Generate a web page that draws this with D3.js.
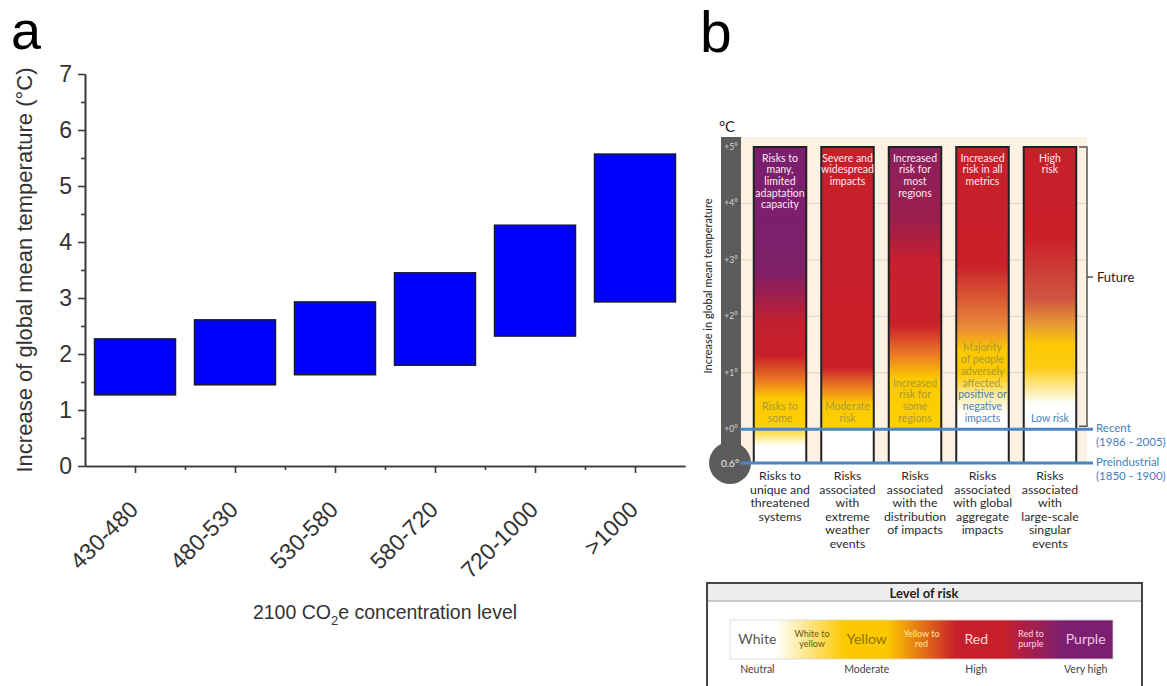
<!DOCTYPE html>
<html>
<head>
<meta charset="utf-8">
<script src="https://cdn.jsdelivr.net/npm/d3@7"></script>
<style>
body { margin: 0; background: #fff; }
</style>
</head>
<body>
<div id="chart"></div>
<script>
// panel a - warming range for each concentration level
var concLevels = ["430-480", "480-530", "530-580", "580-720", "720-1000", ">1000"];
var tempLow = [1.27, 1.45, 1.63, 1.8, 2.32, 2.93];
var tempHigh = [2.27, 2.61, 2.93, 3.45, 4.3, 5.57];
var tempTicks = [0, 1, 2, 3, 4, 5, 6, 7];

// panel b - reasons for concern
var thermoTicks = [5, 4, 3, 2, 1, 0];
var riskTopText = [
	["Risks to", "many,", "limited", "adaptation", "capacity"],
	["Severe and", "widespread", "impacts"],
	["Increased", "risk for", "most", "regions"],
	["Increased", "risk in all", "metrics"],
	["High", "risk"]
];
var riskLowText = [
	["Risks to", "some"],
	["Moderate", "risk"],
	["Increased", "risk for", "some", "regions"],
	["Majority", "of people", "adversely", "affected,", "positive or", "negative", "impacts"],
	["Low risk"]
];
var riskNames = [
	["Risks to", "unique and", "threatened", "systems"],
	["Risks", "associated", "with", "extreme", "weather", "events"],
	["Risks", "associated", "with the", "distribution", "of impacts"],
	["Risks", "associated", "with global", "aggregate", "impacts"],
	["Risks", "associated", "with", "large-scale", "singular", "events"]
];
// colour of each bar at a given temperature (degrees above recent)
var riskStops = [
	[[5, "#7a1f70"], [2.8, "#7e1f68"], [1.9, "#c21f2f"], [1.3, "#c9202a"], [0.85, "#ec7a22"], [0.55, "#fcc800"], [0.05, "#fdd000"], [-0.3, "#ffffff"], [-0.6, "#ffffff"]],
	[[5, "#c8202a"], [1.1, "#c9202a"], [0.75, "#ec7a22"], [0.45, "#fcc800"], [0.02, "#fdd000"], [-0.03, "#ffffff"], [-0.6, "#ffffff"]],
	[[5, "#8a1f5e"], [3.7, "#9b1f4c"], [3.0, "#c61f2e"], [1.85, "#c9202a"], [1.35, "#eb7526"], [0.9, "#fcc800"], [0.02, "#fdd000"], [-0.03, "#ffffff"], [-0.6, "#ffffff"]],
	[[5, "#c8202a"], [2.9, "#c9202a"], [1.8, "#e98a3a"], [1.4, "#fcc800"], [1.0, "#fcc800"], [0.5, "#fff3c0"], [0.25, "#ffffff"], [-0.6, "#ffffff"]],
	[[5, "#c8202a"], [3.4, "#c9202a"], [2.3, "#d0553f"], [1.8, "#eba232"], [1.5, "#fcc800"], [1.1, "#fdcc10"], [0.45, "#ffffff"], [-0.6, "#ffffff"]]
];

// legend
var legendLabels = [["White"], ["White to", "yellow"], ["Yellow"], ["Yellow to", "red"], ["Red"], ["Red to", "purple"], ["Purple"]];
var legendStops = [[0, "#ffffff"], [0.12, "#ffffff"], [0.3, "#fcc800"], [0.41, "#fcc800"], [0.59, "#c8202a"], [0.71, "#c8202a"], [0.87, "#7b1f72"], [1, "#7b1f72"]];
var legendWords = ["Neutral", "Moderate", "High", "Very high"];
var legendWordAt = [0, 2, 4, 6];

var svg = d3.select("#chart")
	.append("svg")
	.attr("width", 1167)
	.attr("height", 686);

drawPanelA();
drawPanelB();
drawLegend();

//floating bars of panel a
function drawPanelA()
{
	var yA = d3.scaleLinear().domain([0, 7]).range([466, 74]);
	var xA = d3.scaleLinear().domain([0.5, 6.5]).range([85, 685]);
	var half = 0.405;

	svg.append("text")
		.attr("x", 11)
		.attr("y", 49)
		.style("font-family", "'Liberation Sans', Arial, sans-serif")
		.style("font-size", "54px")
		.text("a");

	svg.selectAll(".rangebar")
		.data(concLevels)
		.enter()
		.append("rect")
		.attr("class", "rangebar")
		.attr("x", function(d, i){ return xA(i + 1 - half); })
		.attr("width", function(d, i){ return xA(i + 1 + half) - xA(i + 1 - half); })
		.attr("y", function(d, i){ return yA(tempHigh[i]); })
		.attr("height", function(d, i){ return yA(tempLow[i]) - yA(tempHigh[i]); })
		.attr("fill", "#0000ff")
		.attr("stroke", "#1a1a2e")
		.attr("stroke-width", 1.5);

	//minor ticks
	svg.append("g")
		.attr("class", "axisA")
		.attr("transform", "translate(85,0)")
		.call(d3.axisLeft(yA).tickValues(d3.range(0.5, 7, 1)).tickSize(4).tickSizeOuter(0).tickFormat(""));
	svg.append("g")
		.attr("class", "axisA")
		.attr("transform", "translate(0,466)")
		.call(d3.axisBottom(xA).tickValues(d3.range(1.5, 6.5, 1)).tickSize(4).tickSizeOuter(0).tickFormat(""));

	//major ticks
	svg.append("g")
		.attr("class", "axisA")
		.attr("transform", "translate(85,0)")
		.call(d3.axisLeft(yA).tickValues(tempTicks).tickSize(7).tickSizeOuter(0).tickPadding(6)
			.tickFormat(d3.format("d")));

	var xAxis = svg.append("g")
		.attr("class", "axisA")
		.attr("transform", "translate(0,466)")
		.call(d3.axisBottom(xA).tickValues(d3.range(1, 7)).tickSize(7).tickSizeOuter(0)
			.tickFormat(function(d){ return concLevels[d - 1]; }));

	xAxis.selectAll("text")
		.attr("x", 0)
		.attr("y", 0)
		.attr("dy", 0)
		.attr("text-anchor", "end")
		.attr("transform", "translate(4,45) rotate(-45)");

	svg.selectAll(".axisA path, .axisA line")
		.attr("stroke", "#3a3a3a")
		.attr("stroke-width", 1.6);
	svg.selectAll(".axisA text")
		.attr("fill", "#333")
		.style("font-family", "'Liberation Sans', Arial, sans-serif")
		.style("font-size", "23px");

	//axis titles
	svg.append("text")
		.attr("transform", "translate(32,270) rotate(-90)")
		.attr("text-anchor", "middle")
		.attr("fill", "#333")
		.style("font-family", "'Liberation Sans', Arial, sans-serif")
		.style("font-size", "22px")
		.text("Increase of global mean temperature (°C)");

	var xTitle = svg.append("text")
		.attr("x", 385)
		.attr("y", 619)
		.attr("text-anchor", "middle")
		.attr("fill", "#333")
		.style("font-family", "'Liberation Sans', Arial, sans-serif")
		.style("font-size", "19.5px");
	xTitle.append("tspan").text("2100 CO");
	xTitle.append("tspan").attr("dy", 6).style("font-size", "13px").text("2");
	xTitle.append("tspan").attr("dy", -6).text("e concentration level");
}

//reasons for concern panel
function drawPanelB()
{
	var yB = d3.scaleLinear().domain([-0.6, 5]).range([463, 147]);
	var xB = d3.scaleBand().domain(d3.range(5)).range([746, 1084]).paddingInner(0.222).paddingOuter(0.115);
	var font = "Lato, 'Open Sans', sans-serif";
	var lineH = 11.7;

	svg.append("text")
		.attr("x", 700)
		.attr("y", 52)
		.style("font-family", "'Liberation Sans', Arial, sans-serif")
		.style("font-size", "57px")
		.text("b");

	//beige backdrop and grid
	svg.append("rect")
		.attr("x", 741)
		.attr("y", 137)
		.attr("width", 346)
		.attr("height", yB(-0.6) - 137)
		.attr("fill", "#fcf1e3");

	svg.selectAll(".gridB")
		.data(thermoTicks.filter(function(t){ return t > 0 && t < 5; }))
		.enter()
		.append("line")
		.attr("class", "gridB")
		.attr("x1", 741)
		.attr("x2", 1087)
		.attr("y1", function(d){ return yB(d); })
		.attr("y2", function(d){ return yB(d); })
		.attr("stroke", "#ddd3c6")
		.attr("stroke-width", 1);

	//gradients for each bar
	var defs = svg.append("defs");
	riskStops.forEach(function(stops, i){
		var grad = defs.append("linearGradient")
			.attr("id", "risk" + i)
			.attr("x1", 0).attr("y1", 0)
			.attr("x2", 0).attr("y2", 1);
		stops.forEach(function(s){
			grad.append("stop")
				.attr("offset", (yB(s[0]) - yB(5)) / (yB(-0.6) - yB(5)))
				.attr("stop-color", s[1]);
		});
	});

	svg.selectAll(".riskbar")
		.data(riskStops)
		.enter()
		.append("rect")
		.attr("class", "riskbar")
		.attr("x", function(d, i){ return xB(i); })
		.attr("width", xB.bandwidth())
		.attr("y", yB(5))
		.attr("height", yB(-0.6) - yB(5))
		.attr("fill", function(d, i){ return "url(#risk" + i + ")"; })
		.attr("stroke", "#222")
		.attr("stroke-width", 2);

	//text at the top of each bar
	riskTopText.forEach(function(lines, i){
		lines.forEach(function(line, k){
			svg.append("text")
				.attr("x", xB(i) + xB.bandwidth() / 2)
				.attr("y", 158 + k * lineH)
				.attr("dy", "0.35em")
				.attr("text-anchor", "middle")
				.attr("fill", "#fbe9f0")
				.style("font-family", font)
				.style("font-size", "10.5px")
				.text(line);
		});
	});

	//text at the bottom of each bar, blue where the bar turns white
	riskLowText.forEach(function(lines, i){
		var colorAt = d3.scaleLinear()
			.domain(riskStops[i].map(function(s){ return s[0]; }))
			.range(riskStops[i].map(function(s){ return s[1]; }));
		lines.forEach(function(line, k){
			var y = 418 - (lines.length - 1 - k) * lineH;
			var bg = d3.hsl(colorAt(yB.invert(y)));
			svg.append("text")
				.attr("x", xB(i) + xB.bandwidth() / 2)
				.attr("y", y)
				.attr("dy", "0.35em")
				.attr("text-anchor", "middle")
				.attr("fill", bg.l > 0.72 ? "#4a7fc0" : "#a99a3c")
				.style("font-family", font)
				.style("font-size", "10.5px")
				.text(line);
		});
	});

	//captions under the bars
	riskNames.forEach(function(lines, i){
		lines.forEach(function(line, k){
			svg.append("text")
				.attr("x", xB(i) + xB.bandwidth() / 2)
				.attr("y", 476 + k * 13.5)
				.attr("dy", "0.35em")
				.attr("text-anchor", "middle")
				.attr("fill", "#2b2b2b")
				.style("font-family", font)
				.style("font-size", "12.3px")
				.text(line);
		});
	});

	//thermometer
	svg.append("rect")
		.attr("x", 721)
		.attr("y", 137)
		.attr("width", 20)
		.attr("height", 320)
		.attr("fill", "#5c5c5c");
	svg.append("circle")
		.attr("cx", 730)
		.attr("cy", yB(-0.6))
		.attr("r", 21)
		.attr("fill", "#5c5c5c");

	svg.selectAll(".thermoTick")
		.data(thermoTicks)
		.enter()
		.append("text")
		.attr("class", "thermoTick")
		.attr("x", 731)
		.attr("y", function(d){ return yB(d); })
		.attr("dy", "0.35em")
		.attr("text-anchor", "middle")
		.attr("fill", "#d6d6d6")
		.style("font-family", font)
		.style("font-size", "8.5px")
		.text(function(d){ return "+" + d + "°"; });

	svg.append("text")
		.attr("x", 730)
		.attr("y", yB(-0.6))
		.attr("dy", "0.35em")
		.attr("text-anchor", "middle")
		.attr("fill", "#f0f0f0")
		.style("font-family", font)
		.style("font-size", "10px")
		.text("0.6°");

	svg.append("text")
		.attr("x", 727)
		.attr("y", 132)
		.attr("text-anchor", "middle")
		.attr("fill", "#222")
		.style("font-family", font)
		.style("font-size", "15px")
		.text("°C");

	svg.append("text")
		.attr("transform", "translate(712,286) rotate(-90)")
		.attr("text-anchor", "middle")
		.attr("fill", "#222")
		.style("font-family", font)
		.style("font-size", "11px")
		.text("Increase in global mean temperature");

	//future bracket
	var bracket = svg.append("g")
		.attr("stroke", "#555")
		.attr("stroke-width", 1.5);
	bracket.append("path")
		.attr("fill", "none")
		.attr("d", "M1079," + yB(5) + "H1087V" + (yB(0) - 3) + "H1079");
	bracket.append("line")
		.attr("x1", 1087).attr("x2", 1093)
		.attr("y1", 277).attr("y2", 277);
	svg.append("text")
		.attr("x", 1097)
		.attr("y", 277)
		.attr("dy", "0.35em")
		.attr("fill", "#222")
		.style("font-family", font)
		.style("font-size", "13px")
		.text("Future");

	//recent and preindustrial lines
	var refLines = [[0, "Recent", "(1986 - 2005)"], [-0.6, "Preindustrial", "(1850 - 1900)"]];
	refLines.forEach(function(r){
		svg.append("line")
			.attr("x1", 740)
			.attr("x2", 1093)
			.attr("y1", yB(r[0]))
			.attr("y2", yB(r[0]))
			.attr("stroke", "#4a86c5")
			.attr("stroke-width", 3);
		svg.append("text")
			.attr("x", 1096)
			.attr("y", yB(r[0]) + 3)
			.attr("fill", "#3f7fc0")
			.style("font-family", font)
			.style("font-size", "11.5px")
			.text(r[1]);
		svg.append("text")
			.attr("x", 1096)
			.attr("y", yB(r[0]) + 17)
			.attr("fill", "#3f7fc0")
			.style("font-family", font)
			.style("font-size", "11.5px")
			.text(r[2]);
	});
}

//level of risk box
function drawLegend()
{
	var font = "Lato, 'Open Sans', sans-serif";
	var xL = d3.scaleLinear().domain([0, legendLabels.length]).range([730, 1113]);

	svg.append("rect")
		.attr("x", 707)
		.attr("y", 583)
		.attr("width", 435)
		.attr("height", 130)
		.attr("fill", "#fff")
		.attr("stroke", "#444")
		.attr("stroke-width", 2);
	svg.append("rect")
		.attr("x", 708)
		.attr("y", 584)
		.attr("width", 433)
		.attr("height", 17)
		.attr("fill", "#eeeeee");
	svg.append("line")
		.attr("x1", 708).attr("x2", 1141)
		.attr("y1", 601).attr("y2", 601)
		.attr("stroke", "#999");
	svg.append("text")
		.attr("x", 924)
		.attr("y", 593)
		.attr("dy", "0.35em")
		.attr("text-anchor", "middle")
		.attr("fill", "#222")
		.style("font-family", font)
		.style("font-size", "13px")
		.style("font-weight", "bold")
		.text("Level of risk");

	var grad = svg.select("defs").append("linearGradient")
		.attr("id", "legendGrad");
	legendStops.forEach(function(s){
		grad.append("stop")
			.attr("offset", s[0])
			.attr("stop-color", s[1]);
	});

	svg.append("rect")
		.attr("x", xL(0))
		.attr("y", 620)
		.attr("width", xL(legendLabels.length) - xL(0))
		.attr("height", 39)
		.attr("fill", "url(#legendGrad)")
		.attr("stroke", "#d8d8d8")
		.attr("stroke-width", 0.8);

	var labelColors = ["#555", "#6b5a10", "#8a7000", "#ffe9a0", "#ffd6d6", "#ffd3e4", "#f2c6ea"];
	legendLabels.forEach(function(lines, i){
		var cx = xL(i + 0.5);
		lines.forEach(function(line, k){
			svg.append("text")
				.attr("x", cx)
				.attr("y", lines.length == 1 ? 639 : 634 + k * 10)
				.attr("dy", "0.35em")
				.attr("text-anchor", "middle")
				.attr("fill", labelColors[i])
				.style("font-family", font)
				.style("font-size", lines.length == 1 ? "14px" : "9px")
				.text(line);
		});
	});

	legendWords.forEach(function(w, k){
		svg.append("text")
			.attr("x", xL(legendWordAt[k] + 0.5))
			.attr("y", 669)
			.attr("dy", "0.35em")
			.attr("text-anchor", "middle")
			.attr("fill", "#444")
			.style("font-family", font)
			.style("font-size", "10.5px")
			.text(w);
	});
}
</script>
</body>
</html>
